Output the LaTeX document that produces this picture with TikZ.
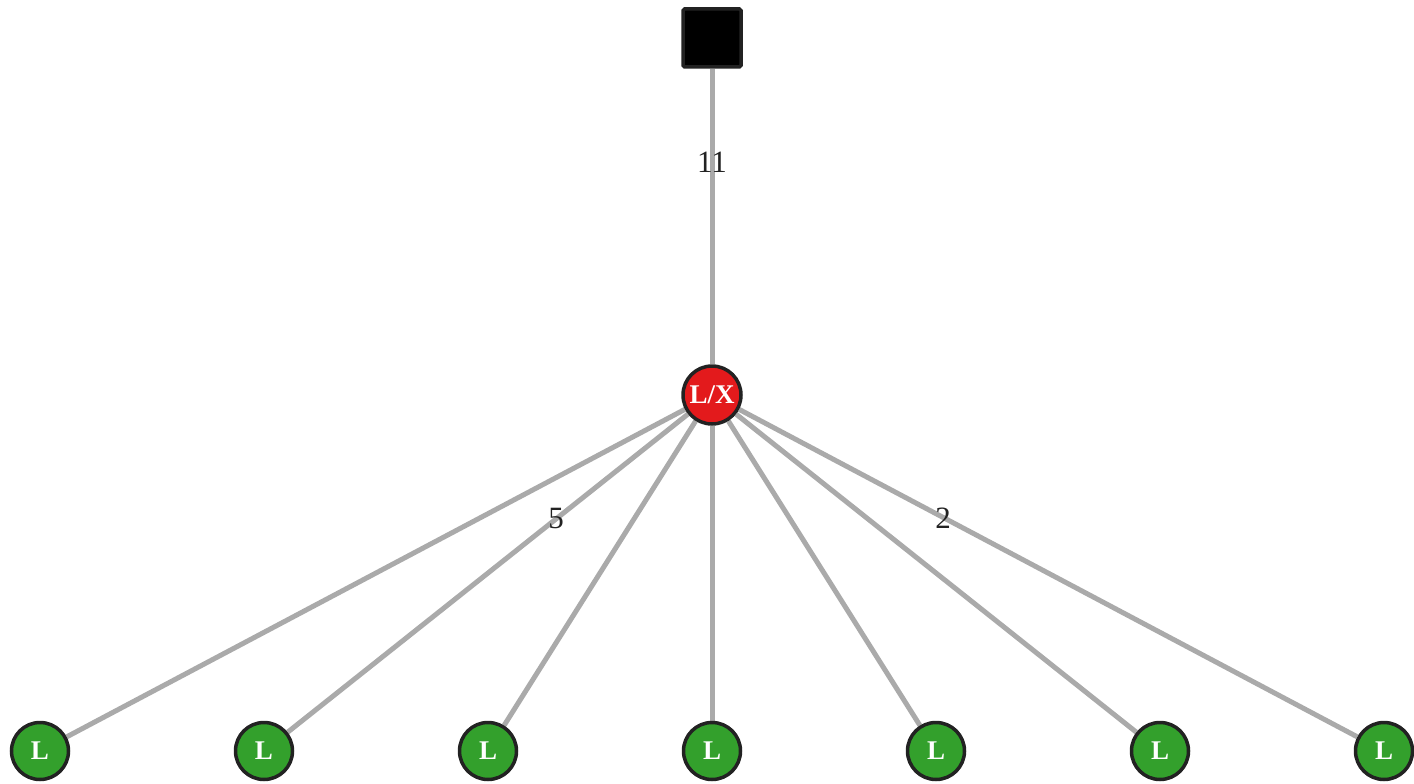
\documentclass[tikz,border=0pt]{standalone}
\usepackage{fontspec}
\setmainfont{Liberation Serif}
\usetikzlibrary{backgrounds}
\definecolor{edgegray}{HTML}{AAAAAA}
\definecolor{nodered}{HTML}{E31A1C}
\definecolor{nodegreen}{HTML}{33A02C}
\definecolor{border}{HTML}{222222}
\tikzset{
  edge/.style={draw=edgegray, line width=5pt},
  rootsq/.style={draw=border, fill=black, line width=3.5pt, minimum size=58pt, inner sep=0pt, rounded corners=1.5pt},
  hub/.style={circle, draw=border, fill=nodered, line width=3.5pt, minimum size=58pt, inner sep=0pt, text=white, font=\fontsize{27}{27}\selectfont\bfseries},
  leaf/.style={circle, draw=border, fill=nodegreen, line width=3.5pt, minimum size=57pt, inner sep=0pt, text=white, font=\fontsize{27}{27}\selectfont\bfseries},
  elabel/.style={text=border, font=\fontsize{31}{31}\selectfont, inner sep=0pt}
}
\begin{document}
\begin{tikzpicture}[x=1pt,y=-1pt]
\useasboundingbox (0,0) rectangle (1414,784);
\node[rootsq] (root) at (712,38) {};
\node[hub] (hub) at (712,395) {L/X};
\foreach \i/\x in {1/40,2/264,3/488,4/712,5/936,6/1160,7/1384}{
  \node[leaf] (l\i) at (\x,751) {L};
}
\begin{scope}[on background layer]
  \path[edge] (root) -- (hub);
  \foreach \i in {1,...,7}{
    \path[edge] (hub) -- (l\i);
  }
\end{scope}
\node[elabel] (lab11) at (712,162) {11};
\node[elabel] (lab5) at (556,518) {5};
\node[elabel] (lab2) at (943,518) {2};
\end{tikzpicture}
\end{document}
